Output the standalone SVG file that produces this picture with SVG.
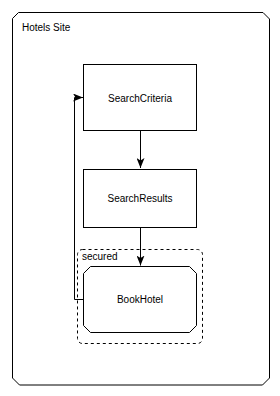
<svg xmlns="http://www.w3.org/2000/svg" width="280" height="396" viewBox="0 0 280 396">
<defs>
<style>
.shape{fill:#fff;stroke:#000;stroke-width:1}
.dash{fill:none;stroke:#000;stroke-width:1;stroke-dasharray:3 3}
.lbl{font-family:"Liberation Sans",Arial,sans-serif;font-size:10px;fill:#000}
.c{text-anchor:middle}
.edge{fill:none;stroke:#000;stroke-width:1}
</style>
<marker id="arr" viewBox="0 0 10 8" refX="10" refY="4" markerWidth="10" markerHeight="8" markerUnits="userSpaceOnUse" orient="auto">
<path d="M0,0 L10,4 L0,8 L2.5,4 Z" fill="#000"/>
</marker>
</defs>
<rect width="280" height="396" fill="#fff"/>
<g id="hotels-site">
<polygon class="shape" points="18.5,12.5 263,12.5 269.5,19 269.5,378 262.5,385 19.5,385 12.5,378 12.5,18.5"/>
<text class="lbl" x="22" y="31">Hotels Site</text>
</g>
<g id="secured">
<rect class="dash" x="77.5" y="249.5" width="125" height="94" rx="5"/>
<text class="lbl" x="82" y="260">secured</text>
</g>
<g id="search-criteria">
<rect class="shape" x="83.5" y="64.5" width="113" height="66"/>
<text class="lbl c" x="140" y="101.5">SearchCriteria</text>
</g>
<g id="search-results">
<rect class="shape" x="83.5" y="169.5" width="113" height="58"/>
<text class="lbl c" x="140" y="201.5">SearchResults</text>
</g>
<g id="book-hotel">
<polygon class="shape" points="90.5,266.5 189.5,266.5 196.5,273.5 196.5,325.5 189.5,332.5 90.5,332.5 83.5,325.5 83.5,273.5"/>
<text class="lbl c" x="140" y="302.5">BookHotel</text>
</g>
<g id="connectors">
<path class="edge" d="M140.5,130.5 L140.5,168" marker-end="url(#arr)"/>
<path class="edge" d="M140.5,227.5 L140.5,265.5" marker-end="url(#arr)"/>
<path class="edge" d="M83.5,299.5 L74.5,299.5 L74.5,97.5 L83,97.5" marker-end="url(#arr)"/>
</g>
</svg>
